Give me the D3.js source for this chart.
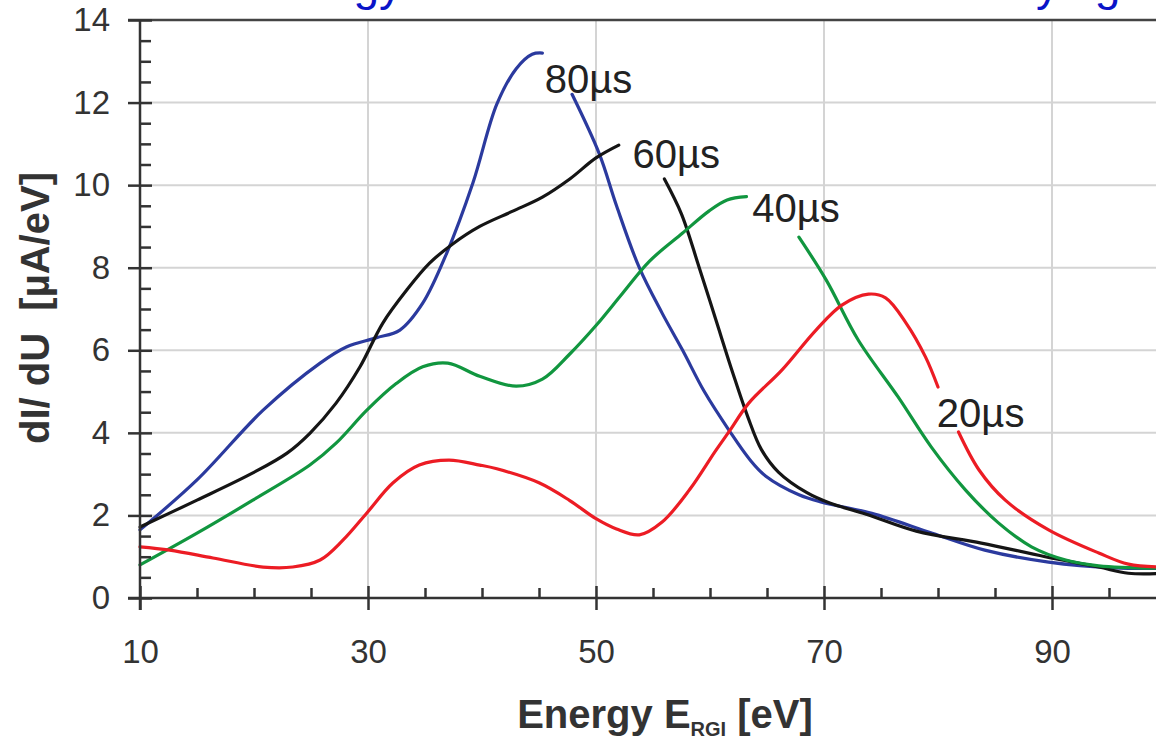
<!DOCTYPE html>
<html>
<head>
<meta charset="utf-8">
<script src="https://cdn.jsdelivr.net/npm/d3@7"></script>
<style>
  body { margin: 0; background: #fff; }
  svg { display: block; font-family: "Liberation Sans", Arial, sans-serif; }
</style>
</head>
<body>
<script>
// curves: [energy eV, dI/dU uA/eV], split where a label cuts the line
var t80a = [[10,1.65],[15,2.86],[20.8,4.55],[25.8,5.69],[28.1,6.08],[30.7,6.3],[32.8,6.49],[34.8,7.14],[36.9,8.35],[39.2,10.05],[41.3,11.96],[43,12.82],[44.4,13.17],[45.3,13.2]];
var t80b = [[47.9,12.2],[50.3,10.75],[51.8,9.5],[53.8,8.0],[55.8,6.9],[57.6,6.0],[59.5,5.0],[61.7,4.05],[63.5,3.35],[64.9,2.95],[67.8,2.5],[69.8,2.32],[74.2,2.05],[79.5,1.57],[84.1,1.16],[89.7,0.87],[95.5,0.73],[100,0.72]];
var t60a = [[10,1.72],[15,2.37],[19.9,3.03],[22.9,3.51],[24.9,3.99],[27.2,4.72],[29.3,5.6],[31.3,6.66],[33.4,7.46],[35.4,8.11],[37.4,8.57],[39.8,9.0],[42.7,9.37],[45.3,9.71],[47.7,10.15],[50,10.66],[52,10.97]];
var t60b = [[56,10.15],[57.5,9.3],[59,8.05],[60.5,6.75],[62,5.45],[63.3,4.4],[64.5,3.6],[66,3.05],[68.5,2.55],[70.5,2.3],[73.7,2.03],[78.1,1.62],[83.8,1.33],[89.4,1.0],[94.1,0.75],[96.7,0.6],[100,0.6]];
var t40a = [[10,0.8],[15,1.57],[19.9,2.37],[24.9,3.22],[27.2,3.75],[29.9,4.55],[32.5,5.2],[34.8,5.6],[37,5.69],[39.8,5.37],[43,5.13],[45.3,5.3],[47.7,5.91],[50,6.6],[52.3,7.37],[54.7,8.16],[57.6,8.84],[59.9,9.37],[61.5,9.64],[63.2,9.72]];
var t40b = [[67.8,8.74],[70.2,7.7],[73,6.25],[76.5,4.87],[79.4,3.66],[82.4,2.62],[85.3,1.82],[88.2,1.24],[91.2,0.92],[94.1,0.78],[100,0.72]];
var t20a = [[10,1.24],[12.6,1.16],[16.4,0.97],[20.8,0.75],[23.4,0.75],[25.8,0.92],[27.8,1.4],[29.9,2.06],[32.2,2.79],[34.5,3.22],[37.1,3.34],[39.8,3.22],[41.3,3.13],[45,2.79],[47.7,2.36],[50,1.92],[51.8,1.67],[53.8,1.53],[55.8,1.84],[58.2,2.62],[60.5,3.57],[61.7,4.04],[63.4,4.72],[66.3,5.52],[69.3,6.49],[71.6,7.1],[73.9,7.36],[75.4,7.27],[77.2,6.66],[78.9,5.84],[80,5.11]];
var t20b = [[81.8,4.02],[83.6,3.1],[85.9,2.37],[89.7,1.65],[94.1,1.09],[96.7,0.82],[100,0.75]];

var xTicks = [10, 30, 50, 70, 90];
var yTicks = [0, 2, 4, 6, 8, 10, 12, 14];
var yMinor = d3.range(0, 14.01, 0.5).filter(function (d) { return d % 2 !== 0 });
var xMinor = d3.range(10, 100.01, 5).filter(function (d) { return (d - 10) % 20 !== 0 });

var series = [
  { name: '80µs', color: '#2b3a9e', parts: [t80a, t80b], label: [45.5, 12.23] },
  { name: '60µs', color: '#151515', parts: [t60a, t60b], label: [53.2, 10.42] },
  { name: '40µs', color: '#11963f', parts: [t40a, t40b], label: [63.7, 9.1] },
  { name: '20µs', color: '#ec1c24', parts: [t20a, t20b], label: [79.9, 4.15] }
];

var W = 1156, H = 739;
var margin = { top: 20, left: 140 };
var w = 1026, h = 578;

var svg = d3.select('body').append('svg')
    .attr('width', W)
    .attr('height', H);

// title, cut off at the top of the picture (only descenders show)
svg.append('text')
    .attr('y', 0)
    .attr('fill', '#0a14c8')
    .style('font-size', '46px')
    .call(function (t) {
      t.append('tspan').attr('x', 402).attr('text-anchor', 'end').text('Ion Energy')
      t.append('tspan').attr('x', 972).attr('text-anchor', 'start').text('varying times')
    });

var xScale = d3.scaleLinear().domain([10, 100]).range([0, w]);
var yScale = d3.scaleLinear().domain([0, 14]).range([h, 0]);

var g = svg.append('g')
    .attr('transform', 'translate(' + margin.left + ',' + margin.top + ')');

// grid
g.append('g').selectAll('line')
    .data(yTicks.filter(function (d) { return d > 0 && d < 14 }))
    .enter().append('line')
    .attr('x1', 0).attr('x2', w)
    .attr('y1', function (d) { return yScale(d) })
    .attr('y2', function (d) { return yScale(d) })
    .attr('stroke', '#d4d4d4').attr('stroke-width', 2);
g.append('g').selectAll('line')
    .data(xTicks.filter(function (d) { return d > 10 }))
    .enter().append('line')
    .attr('y1', 0).attr('y2', h)
    .attr('x1', function (d) { return xScale(d) })
    .attr('x2', function (d) { return xScale(d) })
    .attr('stroke', '#d4d4d4').attr('stroke-width', 2);

// top frame line
g.append('line')
    .attr('x1', -12).attr('x2', w)
    .attr('y1', yScale(14)).attr('y2', yScale(14))
    .attr('stroke', '#444').attr('stroke-width', 2.5);

// curves
var line = d3.line()
    .x(function (d) { return xScale(d[0]) })
    .y(function (d) { return yScale(d[1]) })
    .curve(d3.curveCatmullRom.alpha(0.5));

series.forEach(function (s) {
  g.selectAll(null)
      .data(s.parts)
      .enter().append('path')
      .attr('d', line)
      .attr('fill', 'none')
      .attr('stroke', s.color)
      .attr('stroke-width', 3.2)
      .attr('stroke-linejoin', 'round')
      .attr('stroke-linecap', 'round');
  g.append('text')
      .attr('x', xScale(s.label[0]))
      .attr('y', yScale(s.label[1]))
      .attr('fill', '#222')
      .style('font-size', '40px')
      .text(s.name);
});

// axes
function styleAxis(sel) {
  sel.selectAll('.domain').remove();
  sel.selectAll('line').attr('stroke', '#333').attr('stroke-width', 2.5);
  sel.selectAll('text').attr('fill', '#333').style('font-size', '33px')
    .style('font-family', '"Liberation Sans", Arial, sans-serif');
}

g.append('g')
    .call(d3.axisLeft(yScale).tickValues(yTicks).tickSize(12).tickPadding(18))
    .call(styleAxis);
g.append('g')
    .call(d3.axisLeft(yScale).tickValues(yTicks).tickSize(-12).tickFormat(''))
    .call(styleAxis);
g.append('g')
    .call(d3.axisLeft(yScale).tickValues(yMinor).tickSize(-11).tickFormat(''))
    .call(styleAxis);

g.append('g')
    .attr('transform', 'translate(0,' + h + ')')
    .call(d3.axisBottom(xScale).tickValues(xTicks).tickSize(12).tickPadding(30))
    .call(styleAxis);
g.append('g')
    .attr('transform', 'translate(0,' + h + ')')
    .call(d3.axisBottom(xScale).tickValues(xTicks).tickSize(-12).tickFormat(''))
    .call(styleAxis);
g.append('g')
    .attr('transform', 'translate(0,' + h + ')')
    .call(d3.axisBottom(xScale).tickValues(xMinor).tickSize(-10).tickFormat(''))
    .call(styleAxis);

// axis lines
g.append('line')
    .attr('x1', 0).attr('x2', 0)
    .attr('y1', yScale(14)).attr('y2', h + 12)
    .attr('stroke', '#333').attr('stroke-width', 2.5);
g.append('line')
    .attr('x1', -12).attr('x2', w)
    .attr('y1', h).attr('y2', h)
    .attr('stroke', '#333').attr('stroke-width', 2.5);

// axis titles
var xt = svg.append('text')
    .attr('x', 665)
    .attr('y', 728)
    .attr('text-anchor', 'middle')
    .attr('fill', '#333')
    .style('font-size', '40px')
    .style('font-weight', 'bold');
xt.append('tspan').text('Energy E');
xt.append('tspan').attr('dy', 8).style('font-size', '20px').text('RGI');
xt.append('tspan').attr('dy', -8).text(' [eV]');

svg.append('text')
    .attr('transform', 'translate(49,308) rotate(-90)')
    .attr('text-anchor', 'middle')
    .attr('fill', '#333')
    .style('font-size', '40px')
    .style('font-weight', 'bold')
    .style('white-space', 'pre')
    .text('dI/ dU  [µA/eV]');
</script>
</body>
</html>
